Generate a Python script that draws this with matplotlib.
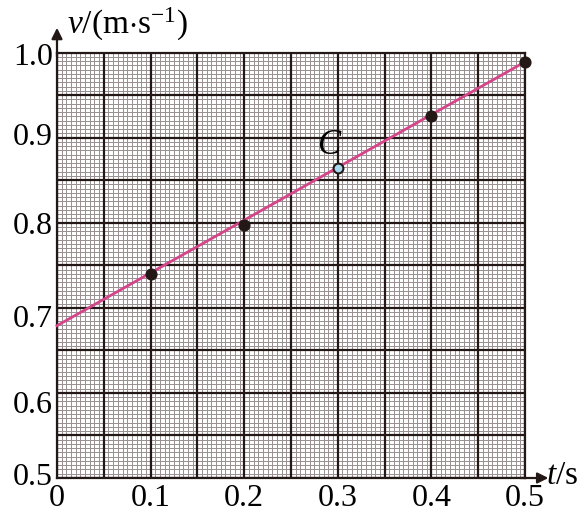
import numpy as np
import matplotlib
matplotlib.use("Agg")
import matplotlib.pyplot as plt
from matplotlib.transforms import ScaledTranslation

plt.rcParams['font.family'] = ['Liberation Serif', 'DejaVu Serif']
plt.rcParams['mathtext.fontset'] = 'custom'
plt.rcParams['mathtext.rm'] = 'Liberation Serif'
plt.rcParams['mathtext.it'] = 'Liberation Serif:italic'

# data
t_solid = [0.1, 0.2, 0.4, 0.5]
v_solid = [0.740, 0.797, 0.925, 0.989]
t_c = [0.3]
v_c = [0.864]
fit_t = [0.0, 0.5]
fit_v = [0.679, 0.989]
x_ticks = [0, 0.1, 0.2, 0.3, 0.4, 0.5]
x_labels = ['0', '0.1', '0.2', '0.3', '0.4', '0.5']
y_ticks = [0.5, 0.6, 0.7, 0.8, 0.9, 1.0]
y_labels = ['0.5', '0.6', '0.7', '0.8', '0.9', '1.0']

ink = '#231815'
minor_c = '#9a9292'
fig = plt.figure(figsize=(5.84, 5.15), dpi=100)
ax = fig.add_axes([57/584, 1-478/515, 468/584, 425.5/515])
ax.set_xlim(0, 0.5)
ax.set_ylim(0.5, 1.0)

# graph paper grid
for x in np.arange(0, 0.5001, 0.005):
    major = abs(x/0.05 - round(x/0.05)) < 1e-6
    if major:
        ax.axvline(x, color=ink, lw=1.6, zorder=2)
    else:
        ax.axvline(x, color=minor_c, lw=0.72, zorder=1, antialiased=False)
for y in np.arange(0.5, 1.0001, 0.005):
    major = abs((y-0.5)/0.05 - round((y-0.5)/0.05)) < 1e-6
    if major:
        ax.axhline(y, color=ink, lw=1.6, zorder=2)
    else:
        ax.axhline(y, color=minor_c, lw=0.72, zorder=1, antialiased=False)

for s in ax.spines.values():
    s.set_color(ink)
    s.set_linewidth(1.6)

ax.plot(fit_t, fit_v, color='#d4458a', lw=2, zorder=3, clip_on=False)
ax.scatter(t_solid, v_solid, s=60, color=ink, zorder=4, clip_on=False)
ax.scatter(t_c, v_c, s=50, facecolor='#a8daf2', edgecolor=ink, linewidth=1.5, zorder=4, clip_on=False)
ax.text(0.2906, 0.891, 'C', fontsize=25, style='italic', ha='center', va='center', zorder=5)

ax.set_xticks(x_ticks)
ax.set_xticklabels(x_labels, fontsize=23)
ax.set_yticks(y_ticks)
ax.set_yticklabels([])
ax.tick_params(length=0)
ax.tick_params(axis='x', pad=4)

# y tick labels with the small vertical nudges of the printed figure (pixels, down positive)
nudges = [-4, 9, 8, 0, -3.5, 1.5]
for yv, lab, dpx in zip(y_ticks, y_labels, nudges):
    tr = ax.get_yaxis_transform() + ScaledTranslation(-4/100, -dpx/100, fig.dpi_scale_trans)
    ax.text(0, yv, lab, transform=tr, fontsize=23, ha='right', va='center_baseline', clip_on=False)

# axis arrows
ax.annotate('', xy=(0, 1.058), xytext=(0, 0.99), xycoords='axes fraction',
            arrowprops=dict(arrowstyle='-|>', color=ink, lw=1.6, mutation_scale=16, shrinkA=0, shrinkB=0))
ax.annotate('', xy=(1.05, 0), xytext=(0.99, 0), xycoords='axes fraction',
            arrowprops=dict(arrowstyle='-|>', color=ink, lw=1.6, mutation_scale=16, shrinkA=0, shrinkB=0))

fig.text(67/584, 1-24/515, r'$v$/(m$\cdot$s$^{\mathrm{-1}}$)', fontsize=24, ha='left', va='center')
fig.text(546/584, 1-476/515, r'$t$/s', fontsize=24, ha='left', va='center')

fig.savefig('out.png', dpi=100)
